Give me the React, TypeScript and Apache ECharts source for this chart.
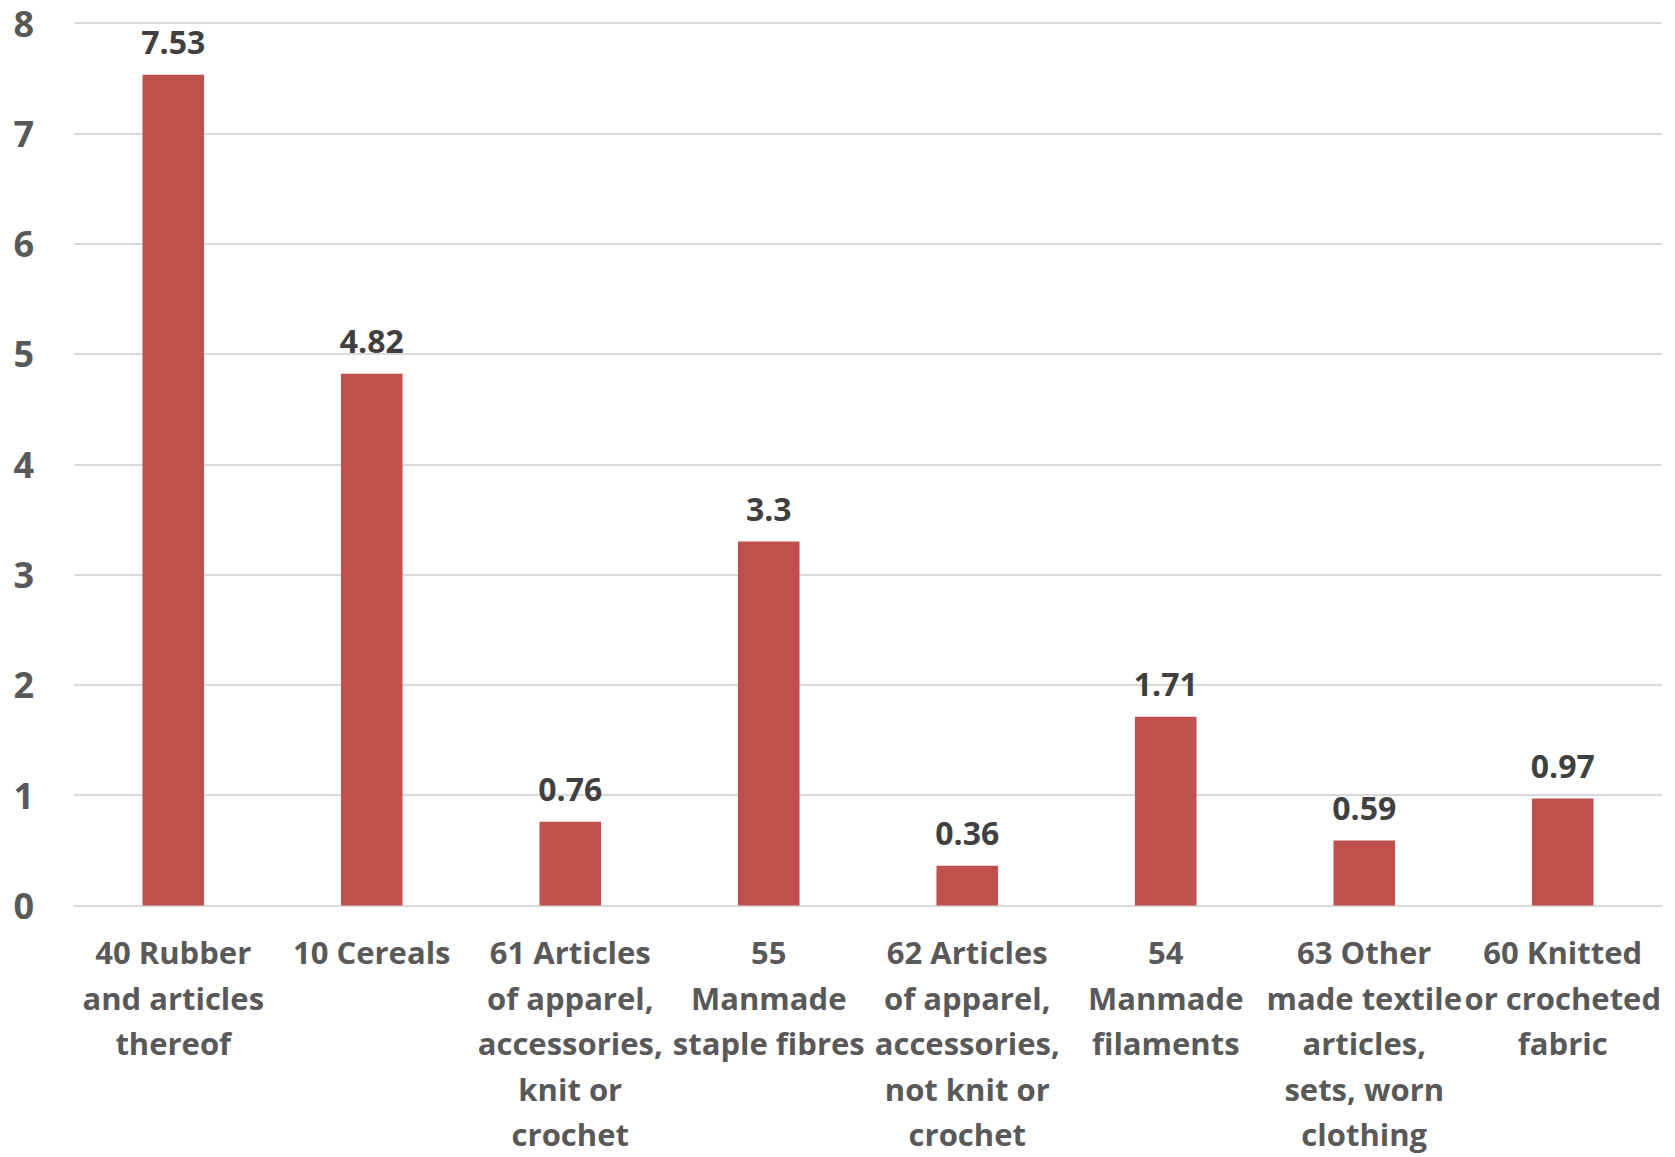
import React, { useEffect, useRef } from "react";
import * as echarts from "echarts";

const categories = [
  "40 Rubber\nand articles\nthereof",
  "10 Cereals",
  "61 Articles\nof apparel,\naccessories,\nknit or\ncrochet",
  "55\nManmade\nstaple fibres",
  "62 Articles\nof apparel,\naccessories,\nnot knit or\ncrochet",
  "54\nManmade\nfilaments",
  "63 Other\nmade textile\narticles,\nsets, worn\nclothing",
  "60 Knitted\nor crocheted\nfabric",
];
const values = [7.53, 4.82, 0.76, 3.3, 0.36, 1.71, 0.59, 0.97];
const yTicks = { min: 0, max: 8, interval: 1 };

const FONT = "'Open Sans', 'Noto Sans', sans-serif";

export default function App() {
  const ref = useRef<HTMLDivElement>(null);
  useEffect(() => {
    document.body.style.margin = "0";
    const chart = echarts.init(ref.current!, null, { renderer: "svg" });
    chart.setOption({
      animation: false,
      backgroundColor: "#ffffff",
      grid: { left: 74, right: 13, top: 23, bottom: 250, containLabel: false },
      xAxis: {
        type: "category",
        data: categories,
        axisLine: { show: true, lineStyle: { color: "#D9D9D9", width: 2 } },
        axisTick: { show: false },
        axisLabel: {
          interval: 0,
          color: "#595959",
          fontFamily: FONT,
          fontWeight: "bold",
          fontSize: 31,
          lineHeight: 45.5,
          margin: 24,
          align: "center",
        },
      },
      yAxis: {
        type: "value",
        min: yTicks.min,
        max: yTicks.max,
        interval: yTicks.interval,
        axisLine: { show: false },
        axisTick: { show: false },
        splitLine: { lineStyle: { color: "#D9D9D9", width: 2 } },
        axisLabel: {
          color: "#595959",
          fontFamily: FONT,
          fontWeight: "bold",
          fontSize: 36,
          margin: 40,
        },
      },
      series: [
        {
          type: "bar",
          data: values,
          barWidth: "31%",
          itemStyle: { color: "#C0504D" },
          label: {
            show: true,
            position: "top",
            distance: 17,
            color: "#404040",
            fontFamily: FONT,
            fontWeight: "bold",
            fontSize: 32,
          },
        },
      ],
    });
    return () => chart.dispose();
  }, []);
  return <div ref={ref} style={{ width: 1675, height: 1157 }} />;
}
